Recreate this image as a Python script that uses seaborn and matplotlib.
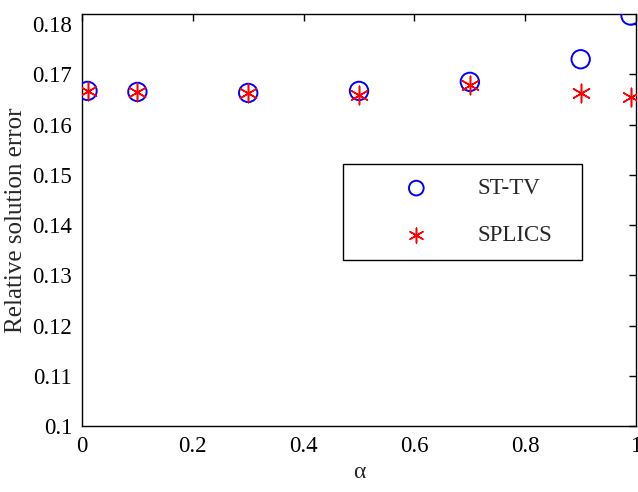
import matplotlib
matplotlib.use("Agg")
import matplotlib.pyplot as plt
import seaborn as sns
import pandas as pd

alpha = [0.01, 0.1, 0.3, 0.5, 0.7, 0.9, 0.99]
st_tv = [0.1667, 0.1665, 0.1663, 0.1667, 0.1685, 0.1730, 0.1817]
splics = [0.1666, 0.1665, 0.1663, 0.1659, 0.1679, 0.1663, 0.1655]
xticks = [0, 0.2, 0.4, 0.6, 0.8, 1]
xticklabels = ["0", "0.2", "0.4", "0.6", "0.8", "1"]
yticks = [0.10, 0.11, 0.12, 0.13, 0.14, 0.15, 0.16, 0.17, 0.18]
yticklabels = ["0.1", "0.11", "0.12", "0.13", "0.14", "0.15", "0.16", "0.17", "0.18"]

sns.set_theme(style="white")
plt.rcParams['font.family'] = ['Liberation Serif', 'DejaVu Serif']

fig = plt.figure(figsize=(6.38, 4.92), dpi=100)
ax = fig.add_axes([0.1285, 0.134, 0.8685, 0.8375])

sns.scatterplot(x=alpha, y=st_tv, ax=ax, marker='o', s=175, facecolors='none',
                edgecolors='#0000ff', linewidth=1.4, label='ST-TV', zorder=3)
sns.scatterplot(x=alpha, y=splics, ax=ax, marker=(6, 2, 0), s=175, color='#ff0000',
                edgecolors='#ff0000', linewidth=1.1, label='SPLICS', zorder=4)

ax.set_xlim(0, 1)
ax.set_ylim(0.1, 0.182)
ax.set_xticks(xticks)
ax.set_xticklabels(xticklabels)
ax.set_yticks(yticks)
ax.set_yticklabels(yticklabels)
ax.tick_params(direction='in', length=5, width=1, top=True, right=True,
               labelsize=16.5, colors='black', pad=7)
for sp in ax.spines.values():
    sp.set_color('black')
    sp.set_linewidth(1.0)
ax.set_xlabel('α', fontsize=17, labelpad=4)
ax.set_ylabel('Relative solution error', fontsize=18, labelpad=4)

leg = ax.legend(loc='lower left', bbox_to_anchor=(0.471, 0.403, 0.432, 0.233),
                mode='expand', fontsize=16.5, frameon=True, fancybox=False,
                borderpad=0.6, labelspacing=1.14, handletextpad=0.05,
                borderaxespad=0, handlelength=5.2, markerscale=0.8)
leg.get_frame().set_edgecolor('black')
leg.get_frame().set_linewidth(1.0)
leg.get_frame().set_alpha(1)

fig.savefig('out.png', dpi=100)
